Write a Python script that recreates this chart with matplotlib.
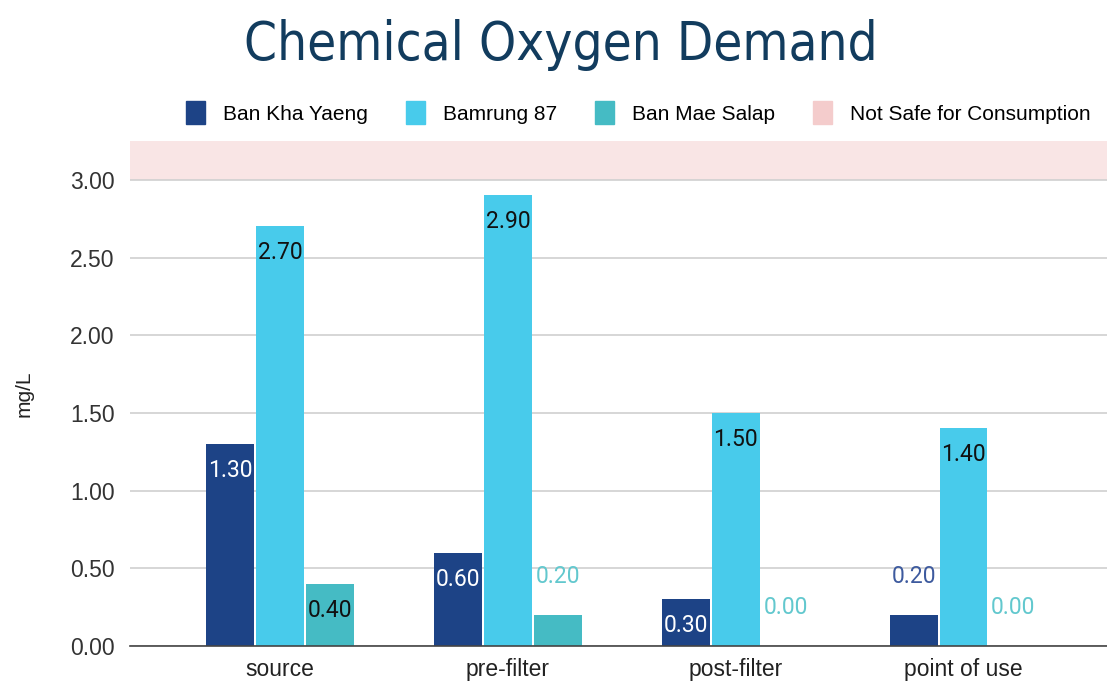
import matplotlib
matplotlib.use('Agg')
import matplotlib.pyplot as plt
from matplotlib.patches import Patch
import numpy as np

# data
categories = ['source', 'pre-filter', 'post-filter', 'point of use']
series_names = ['Ban Kha Yaeng', 'Bamrung 87', 'Ban Mae Salap']
ban_kha_yaeng = [1.30, 0.60, 0.30, 0.20]
bamrung_87 = [2.70, 2.90, 1.50, 1.40]
ban_mae_salap = [0.40, 0.20, 0.00, 0.00]
unsafe_from = 3.00
unsafe_to = 3.25

colors = ['#1d4386', '#48cbeb', '#45bbc4']
inside_colors = ['white', '#111111', '#111111']
outside_colors = ['#3d5a9e', '#48cbeb', '#62c8ce']
pink = '#f4cccc'

plt.rcParams['font.family'] = ['Liberation Sans', 'DejaVu Sans']

fig = plt.figure(figsize=(11.07, 6.82), dpi=100)
ax = fig.add_axes([0.1174, 0.0528, 0.8826, 0.7405])

x = np.arange(len(categories))
width = 0.21
step = 0.219
all_series = [ban_kha_yaeng, bamrung_87, ban_mae_salap]

ax.axhspan(unsafe_from, unsafe_to, color=pink, alpha=0.5, lw=0, zorder=0)

for i, vals in enumerate(all_series):
    pos = x + (i - 1) * step
    ax.bar(pos, vals, width, color=colors[i], zorder=2)
    for px, v in zip(pos, vals):
        if v >= 0.3:
            ax.annotate('%.2f' % v, (px, v), xytext=(0, -19), textcoords='offset points',
                        ha='center', va='center', fontsize=16.5, family='Roboto',
                        color=inside_colors[i], zorder=3)
        else:
            ax.annotate('%.2f' % v, (px, v), xytext=(0, 28), textcoords='offset points',
                        ha='center', va='center', fontsize=16.5, family='Roboto',
                        color=outside_colors[i], zorder=3)

ax.set_ylim(0, unsafe_to)
ax.set_xlim(-0.66, 3.63)
ax.set_yticks(np.arange(0, 3.01, 0.5))
ax.set_yticklabels(['%.2f' % t for t in np.arange(0, 3.01, 0.5)], fontsize=16.5, color='#333333')
ax.set_xticks(x)
ax.set_xticklabels(categories, fontsize=16.5, color='#222222')
ax.tick_params(length=0)
ax.tick_params(axis='y', pad=11)
ax.tick_params(axis='x', pad=9)
ax.yaxis.grid(True, color='#d0d0d0', lw=1.2, zorder=1)
ax.set_axisbelow(True)
for s in ['top', 'right', 'left']:
    ax.spines[s].set_visible(False)
ax.spines['bottom'].set_color('#444444')
ax.spines['bottom'].set_linewidth(1.2)
ax.set_ylabel('mg/L', fontsize=15, color='#222222', labelpad=26)

handles = [Patch(color=c) for c in colors] + [Patch(color=pink)]
labels = series_names + ['Not Safe for Consumption']
fig.legend(handles, labels, loc='center left', bbox_to_anchor=(0.168, 0.835), ncol=4, frameon=False,
           fontsize=15, handlelength=0.9, handleheight=1.3, handletextpad=0.9, columnspacing=1.8,
           borderpad=0, borderaxespad=0)

fig.text(0.507, 0.934, 'Chemical Oxygen Demand', ha='center', va='center', fontsize=38,
         family='DejaVu Sans', stretch='condensed', color='#123c5e')

fig.savefig('out.png', dpi=100)
